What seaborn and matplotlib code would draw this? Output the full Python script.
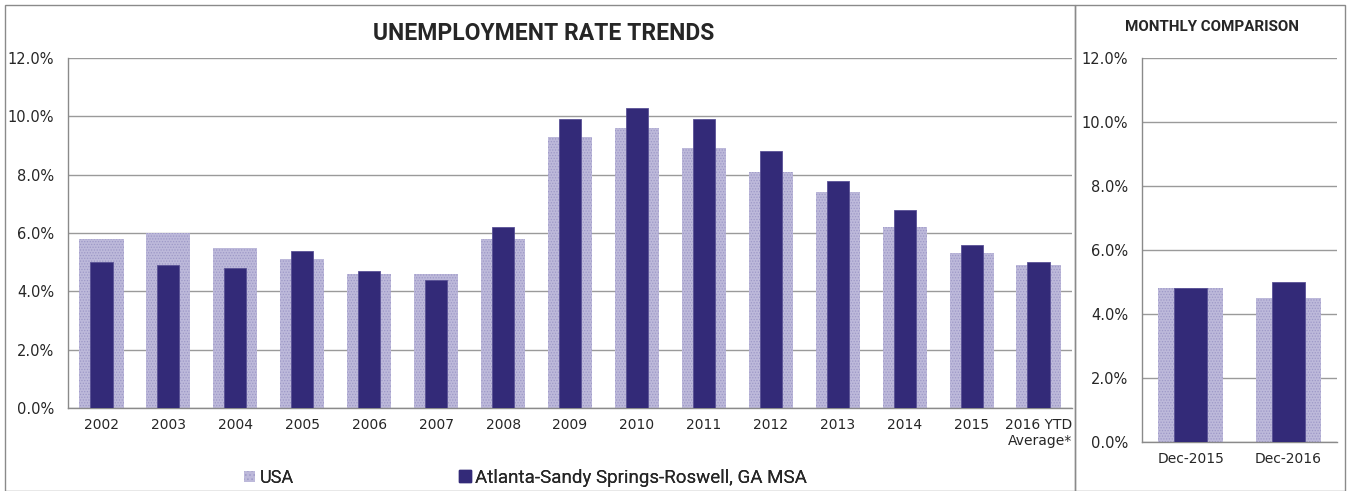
import matplotlib
matplotlib.use("Agg")
import matplotlib.pyplot as plt
import matplotlib.patches as mpatches
from matplotlib.ticker import FuncFormatter, FixedLocator
import seaborn as sns
import pandas as pd
from matplotlib import font_manager

years = ["2002", "2003", "2004", "2005", "2006", "2007", "2008", "2009", "2010",
         "2011", "2012", "2013", "2014", "2015", "2016 YTD\nAverage*"]
usa = [5.8, 6.0, 5.5, 5.1, 4.6, 4.6, 5.8, 9.3, 9.6, 8.9, 8.1, 7.4, 6.2, 5.3, 4.9]
atlanta = [5.0, 4.9, 4.8, 5.4, 4.7, 4.4, 6.2, 9.9, 10.3, 9.9, 8.8, 7.8, 6.8, 5.6, 5.0]

months = ["Dec-2015", "Dec-2016"]
usa_m = [4.8, 4.5]
atlanta_m = [4.8, 5.0]

series_names = ["USA", "Atlanta-Sandy Springs-Roswell, GA MSA"]
title_main = "UNEMPLOYMENT RATE TRENDS"
title_side = "MONTHLY COMPARISON"
yticks = [0, 2, 4, 6, 8, 10, 12]

USA_FACE = "#bdb9da"
USA_HATCH = "#9d98c7"
ATL = "#332a78"
GRID = "#9a9a9a"

sns.set_style("white")
avail = {f.name for f in font_manager.fontManager.ttflist}
narrow = "Liberation Sans Narrow" if "Liberation Sans Narrow" in avail else "Roboto"
plt.rcParams["font.family"] = ["DejaVu Sans"]
plt.rcParams["hatch.color"] = USA_HATCH
plt.rcParams["hatch.linewidth"] = 0.6

fig = plt.figure(figsize=(13.5, 4.91), dpi=100)
W, H = 1350, 491

def pos(x0, y0, x1, y1):
    return [x0 / W, 1 - y1 / H, (x1 - x0) / W, (y1 - y0) / H]

axL = fig.add_axes(pos(68, 58, 1072, 408))
axR = fig.add_axes(pos(1142, 58, 1337, 442))

df = pd.DataFrame({"cat": years, "usa": usa, "atl": atlanta})
dfm = pd.DataFrame({"cat": months, "usa": usa_m, "atl": atlanta_m})

def draw(ax, data, wide, narrow_w):
    sns.barplot(data=data, x="cat", y="usa", ax=ax, color=USA_FACE, width=wide,
                saturation=1, zorder=2)
    n = len(ax.patches)
    for p in ax.patches[:n]:
        p.set_hatch("......")
        p.set_edgecolor(USA_HATCH)
        p.set_linewidth(0)
    sns.barplot(data=data, x="cat", y="atl", ax=ax, color=ATL, width=narrow_w,
                saturation=1, zorder=3)
    for p in ax.patches[n:]:
        p.set_edgecolor("#5a5296")
        p.set_linewidth(0.6)
    ax.set_ylim(0, 12)
    ax.set_xlim(-0.5, len(data) - 0.5)
    ax.yaxis.set_major_locator(FixedLocator(yticks))
    ax.yaxis.set_major_formatter(FuncFormatter(lambda v, _: f"{v:.1f}%"))
    ax.grid(axis="y", color=GRID, linewidth=1.0, zorder=1)
    ax.set_axisbelow(True)
    ax.set_xlabel("")
    ax.set_ylabel("")
    for s in ["top", "right"]:
        ax.spines[s].set_visible(False)
    for s in ["left", "bottom"]:
        ax.spines[s].set_color("#8a8a8a")
        ax.spines[s].set_linewidth(1.0)
    ax.tick_params(axis="y", length=4, color="#8a8a8a", labelsize=10.5, pad=6)
    ax.tick_params(axis="x", length=0, labelsize=10, pad=7)
    ax.set_xticks(range(len(data)))
    ax.set_xticks([i + 0.5 for i in range(-1, len(data))], minor=True)
    ax.tick_params(axis="x", which="minor", length=4, color="#8a8a8a")

draw(axL, df, 0.66, 0.33)
draw(axR, dfm, 0.67, 0.34)
axL.set_xticklabels(years, multialignment="right")

# frames
fig.patches.append(mpatches.Rectangle((5 / W, 0), 1070 / W, 1 - 5 / H, transform=fig.transFigure,
                                      fill=False, edgecolor="#8a8a8a", linewidth=1.0))
fig.patches.append(mpatches.Rectangle((1075 / W, 0), 270 / W, 1 - 5 / H, transform=fig.transFigure,
                                      fill=False, edgecolor="#8a8a8a", linewidth=1.0))

fig.text(544 / W, 1 - 33 / H, title_main, ha="center", va="center", fontsize=16.5,
         fontweight="bold", family=[narrow, "DejaVu Sans"])
fig.text(1212 / W, 1 - 27 / H, title_side, ha="center", va="center", fontsize=10.9,
         fontweight="bold", family=[narrow, "DejaVu Sans"])

handles = [mpatches.Patch(facecolor=USA_FACE, edgecolor=USA_HATCH, hatch="....", linewidth=0),
           mpatches.Patch(facecolor=ATL, edgecolor=ATL)]
for h, name, x0, fs in [(handles[0], series_names[0], 237, 13), (handles[1], series_names[1], 452, 13.5)]:
    lg = fig.legend([h], [name], loc="center left", bbox_to_anchor=(x0 / W, 1 - 478 / H),
                    frameon=False, handlelength=0.6, handleheight=0.6, handletextpad=0.25,
                    borderaxespad=0, prop={"family": [narrow, "DejaVu Sans"], "size": fs})
    fig.add_artist(lg)

fig.savefig("out.png", dpi=100)
